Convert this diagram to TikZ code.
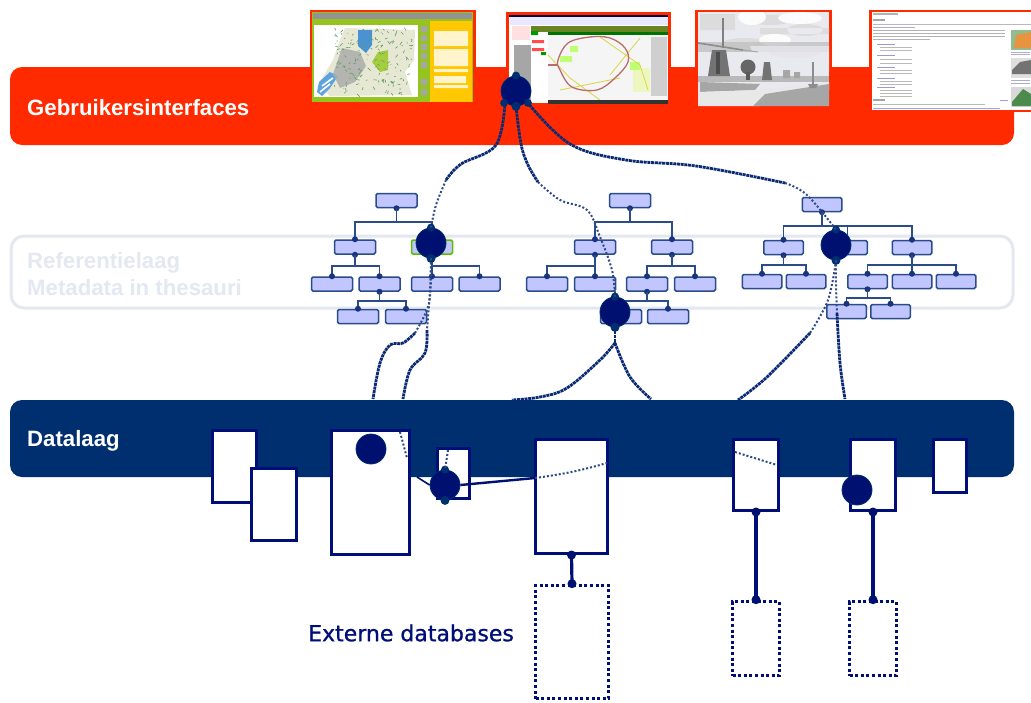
\documentclass[tikz,border=0pt]{standalone}
\usepackage{fontspec}
\setmainfont{Liberation Sans}
\newfontfamily\vfont[FakeBold=1]{DejaVu Sans}
\usetikzlibrary{calc}
\definecolor{redbar}{HTML}{FF2A00}
\definecolor{navybar}{HTML}{002F6F}
\definecolor{navyline}{HTML}{000F78}
\definecolor{dotcol}{HTML}{001070}
\definecolor{treeline}{HTML}{2A4C88}
\definecolor{treefill}{HTML}{C2C6FF}
\definecolor{reflight}{HTML}{E3E8F1}
\definecolor{linkcol}{HTML}{0B2A74}
\definecolor{limeg}{HTML}{96C41E}
\definecolor{amber}{HTML}{FFC800}
\definecolor{landc}{HTML}{E6E8D4}
\definecolor{skyc}{HTML}{E9E9F0}
\tikzset{
  x=1pt,y=-1pt,
  tbox/.style={draw=treeline,fill=treefill,line width=1.5pt,rounded corners=1.5pt,minimum width=#1,minimum height=14pt,inner sep=0pt},
  tbox/.default=41pt,
  gbox/.style={tbox,draw=black!30!green!60!yellow!90!black},
  tree/.style={draw=treeline,line width=1.6pt},
  tdot/.style={circle,fill=treeline!60!dotcol,inner sep=0pt,minimum size=6pt},
  sdot/.style={circle,fill=dotcol,inner sep=0pt,minimum size=9pt},
  hub/.style={circle,fill=dotcol,draw=navybar,line width=.8pt,inner sep=0pt,minimum size=30pt},
  dbox/.style={draw=navyline,fill=white,line width=3pt,inner sep=0pt},
  xbox/.style={draw=navyline,fill=white,line width=3.6pt,dash pattern=on 3pt off 2.6pt,inner sep=0pt},
  dlink/.style={draw=navyline,line width=3.2pt},
  dense/.style={draw=linkcol,line width=2.8pt,dash pattern=on 3pt off .7pt},
  sparse/.style={draw=linkcol!85!white,line width=2pt,dash pattern=on 2pt off 2pt},
  lbl/.style={anchor=west,inner sep=0pt,font=\fontsize{22.2}{26}\selectfont\bfseries},
}
\newcommand{\tlink}[3]{\draw[tree] (#1.south) -- ++(0,#3) -| (#2.north);\node[tdot] at (#2.north) {};}
\newcommand{\tnode}[4][tbox]{\node[#1] (#2) at (#3,#4) {};}
\newcommand{\txtlines}[4]{\foreach \yy in {#3} {\draw[#4] (#1,\yy) -- (#2,\yy);}}
\begin{document}
\begin{tikzpicture}
\useasboundingbox (0,0) rectangle (1031,702);
\fill[white] (0,0) rectangle (1031,702);
\pgfmathsetseed{11}
% bars
\fill[redbar,rounded corners=12pt] (10,67) rectangle (1014,145);
\draw[reflight,line width=3pt,rounded corners=13pt] (11,236) rectangle (1013,308);
\fill[navybar,rounded corners=12pt] (10,400) rectangle (1014,477);
\node[lbl,text=white] (t1) at (27,107.5) {Gebruikersinterfaces};
\node[lbl,text=reflight,align=left,font=\fontsize{22.2}{27}\selectfont\bfseries] (t2) at (27,274.5) {Referentielaag\\Metadata in thesauri};
\node[lbl,text=white] (t3) at (27,441) {Datalaag};
\node[anchor=west,inner sep=0pt,text=navyline,font=\vfont\fontsize{22}{26}\selectfont] (t4) at (308,633) {Externe databases};

% screenshot 1
\fill[redbar] (310,10) rectangle (476,103);
\fill[limeg] (312,12) rectangle (473,102);
\fill[gray!85] (313,13) rectangle (472,19);
\fill[amber] (430,21) rectangle (472,102);
\fill[white] (314,25) rectangle (418,97);
\fill[gray!70] (421,26) rectangle (427,32) (421,35) rectangle (427,41) (421,44) rectangle (427,50) (421,53) rectangle (427,59) (421,62) rectangle (427,68) (421,79) rectangle (427,85) (421,89) rectangle (427,95);
\fill[white!80!amber] (434,31) rectangle (468,46) (434,49) rectangle (468,66) (434,69) rectangle (468,72) (434,76) rectangle (466,83) (434,85) rectangle (468,88);
\begin{scope}
\clip (314,25) rectangle (418,97);
\fill[landc] (345,28) -- (415,30) -- (414,60) -- (405,72) -- (412,95) -- (330,96) -- (318,85) -- (333,60) -- (340,40) -- cycle;
\fill[cyan!60!blue!75] (358,30) -- (372,30) -- (372,45) -- (366,53) -- (358,46) -- cycle;
\fill[cyan!65!blue!65] (317,92) -- (319,82) -- (330,72) -- (338,76) -- (330,88) -- (322,96) -- cycle;
\fill[limeg!85!white] (378,52) -- (388,50) -- (388,70) -- (380,72) -- (372,62) -- cycle;
\fill[gray!65,opacity=.85] (342,48) -- (360,52) -- (366,66) -- (355,82) -- (340,88) -- (333,74) -- cycle;
\foreach \i in {1,...,170} {
  \pgfmathsetmacro{\px}{335+rnd*78}\pgfmathsetmacro{\py}{30+rnd*65}
  \pgfmathsetmacro{\dx}{rnd*6-3}\pgfmathsetmacro{\dy}{rnd*6-3}
  \draw[gray!75!green,line width=.6pt] (\px,\py) -- ++(\dx,\dy);
}
\draw[white,line width=1.6pt] (320,92) -- (330,84) (322,86) -- (333,78);
\end{scope}
% screenshot 2
\fill[redbar] (506,12) rectangle (671,104);
\fill[white] (509,15) rectangle (668,103);
\fill[black!70!blue] (509,15) rectangle (668,16.5);
\fill[blue!9] (510,17) rectangle (668,25);
\fill[black!45!green!45!brown] (531,26) rectangle (668,32);
\fill[green!45!black] (548,32) rectangle (668,35);
\fill[white!92!gray] (548,35) rectangle (668,100);
\fill[gray!38] (651,37) rectangle (667,96);
\fill[yellow!75!green!25] (633,68) rectangle (650,92);
\fill[red!12] (512,26) rectangle (530,40);
\fill[gray!70] (514,45) rectangle (531,100);
\fill[red!70] (532,40) rectangle (544,43) (532,48) rectangle (544,51);
\fill[green!60!black] (531,31) rectangle (538,35) (541,52) rectangle (546,55);
\fill[green!45!yellow!55] (570,46) rectangle (578,52) (560,56) rectangle (572,62) (630,62) rectangle (640,70);
\draw[yellow!70!gray,line width=.8pt] (548,55) -- (570,78) -- (600,100) (600,37) -- (640,65) -- (648,90) (640,38) -- (610,75) (560,90) -- (620,78);
\draw[red!35!gray!85,line width=1.3pt] plot[smooth cycle,tension=.6] coordinates {(568,43) (590,37) (610,38) (625,48) (628,62) (615,78) (597,90) (572,87) (560,70) (558,60)};
\draw[red!35!gray!85,line width=1.1pt] (548,65) -- (558,65);
\fill[black!80] (548,100) rectangle (668,104);
% screenshot 3
\fill[redbar] (695,10) rectangle (832,108);
\fill[skyc] (698,12) rectangle (829,106);
\begin{scope}
\clip (698,12) rectangle (829,106);
\fill[gray!30,opacity=.8] (700,14) rectangle (735,30) (760,28) rectangle (829,34) (770,20) ellipse [x radius=22,y radius=5] (805,30) ellipse [x radius=18,y radius=6] (745,45) ellipse [x radius=25,y radius=7] (795,52) ellipse [x radius=26,y radius=6];
\fill[white,opacity=.9] (752,17) ellipse [x radius=14,y radius=8] (800,18) ellipse [x radius=22,y radius=6] (775,40) ellipse [x radius=16,y radius=6];
\fill[gray!50,opacity=.75] (698,42) rectangle (829,52);
\fill[skyc,opacity=.75] (750,46) -- (829,46) -- (829,72) -- (760,72) -- cycle;
\fill[gray!55] (698,76) rectangle (829,82);
\fill[gray!70] (700,82) -- (760,84) -- (755,90) -- (700,92) -- cycle;
\fill[gray!18] (698,92) -- (760,90) -- (829,82) -- (829,90) -- (760,106) -- (698,106) -- cycle;
\fill[gray!70] (753,106) -- (765,94) -- (829,84) -- (829,106) -- cycle;
\fill[black!55] (712,50) -- (726,50) -- (730,76) -- (708,76) -- cycle;
\fill[black!70] (716,52) rectangle (720,74);
\draw[black!50,line width=1.6pt] (723,18) -- (723,48);
\draw[black!45,line width=1.6pt] (698,43) -- (743,50);
\draw[gray!70,line width=1pt] (743,50) -- (758,52);
\fill[black!60] (748,67) circle [radius=7.5];
\fill[black!65] (746,72) rectangle (750,80);
\fill[black!55] (764,62) -- (770,62) -- (772,80) -- (762,80) -- cycle;
\fill[black!35] (783,70) rectangle (790,78) (794,72) rectangle (800,78);
\draw[black!45,line width=1.2pt] (813,62) -- (813,85);
\fill[black!45] (808,84) -- (818,84) -- (816,88) -- (810,88) -- cycle;
\end{scope}
% screenshot 4
\fill[redbar] (869,10) rectangle (1031,112);
\fill[white] (872,12) rectangle (1031,109.5);
\draw[gray!60,line width=1.2pt] (873,14) -- (898,14);
\draw[gray!70,line width=1.2pt] (873,20) -- (885,20);
\draw[gray!55,line width=.9pt] (873,24) -- (1031,24);
\draw[blue!30!gray!50,line width=.9pt] (873,27) -- (915,27);
\txtlines{873}{1005}{30,33,36}{gray!60,line width=.9pt}
\draw[gray!60,line width=.9pt] (873,39) -- (930,39);
\txtlines{877}{895}{44,55,67,78,87}{blue!45!gray!55,line width=1pt}
\txtlines{880}{912}{47,50,59,63,70,73,81,84,90,93,96}{gray!55,line width=.8pt}
\draw[gray!70,line width=1.1pt] (873,100) -- (885,100);
\draw[blue!40,line width=.9pt] (1000,100) -- (1008,100);
\draw[gray!55,line width=.9pt] (873,104) -- (985,104);
\draw[blue!30!gray!55,line width=.9pt] (873,108) -- (1000,108);
\fill[green!25!gray!70] (1011,30) rectangle (1031,50);
\fill[orange!55!brown!85] (1016,35) -- (1031,32) -- (1031,48) -- (1014,48) -- cycle;
\fill[gray!25] (1011,58) rectangle (1031,78);
\fill[black!55] (1012,70) -- (1020,62) -- (1031,60) -- (1031,74) -- (1012,74) -- cycle;
\fill[gray!30] (1011,87) rectangle (1031,107);
\fill[black!65!green!70] (1012,102) -- (1023,89) -- (1031,94) -- (1031,106) -- (1012,106) -- cycle;
\txtlines{1011}{1030}{52,54,80,83}{blue!30!gray!50,line width=.8pt}
% tree 1
\tnode{a0}{396.5}{200.5}
\tnode{a1}{355}{247}
\tnode[gbox]{a2}{432}{247}
\tnode{a3}{332}{284}
\tnode{a4}{379.5}{284}
\tnode{a5}{432}{284}
\tnode{a6}{479.5}{284}
\tnode{a7}{358}{316.5}
\tnode{a8}{406}{316.5}
\node[tdot] at (a0.south) {};\node[tdot] at (a1.south) {};\node[tdot] at (a4.south) {};
\tlink{a0}{a1}{14}\tlink{a0}{a2}{14}
\tlink{a1}{a3}{11}\tlink{a1}{a4}{11}
\tlink{a2}{a5}{11}\tlink{a2}{a6}{11}
\tlink{a4}{a7}{9}\tlink{a4}{a8}{9}
% tree 2
\tnode{b0}{630}{200.5}
\tnode{b1}{595}{247}
\tnode{b2}{672}{247}
\tnode{b3}{547}{284}
\tnode{b4}{595}{284}
\tnode{b5}{647}{284}
\tnode{b6}{695}{284}
\tnode{b7}{621}{316.5}
\tnode{b8}{668}{316.5}
\node[tdot] at (b0.south) {};\node[tdot] at (b1.south) {};\node[tdot] at (b2.south) {};\node[tdot] at (b5.south) {};
\tlink{b0}{b1}{14}\tlink{b0}{b2}{14}
\tlink{b1}{b3}{11}\tlink{b1}{b4}{11}
\tlink{b2}{b5}{11}\tlink{b2}{b6}{11}
\tlink{b5}{b7}{9}\tlink{b5}{b8}{9}
% tree 3
\tnode[tbox=39.5pt]{c0}{822}{204.5}
\tnode[tbox=39.5pt]{c1}{783.5}{247.5}
\tnode[tbox=39.5pt]{c2}{847.5}{247.5}
\tnode[tbox=39.5pt]{c3}{912}{247.5}
\tnode[tbox=39.5pt]{c4}{762}{281.5}
\tnode[tbox=39.5pt]{c5}{806}{281.5}
\tnode[tbox=39.5pt]{c6}{867.5}{281.5}
\tnode[tbox=39.5pt]{c7}{912}{281.5}
\tnode[tbox=39.5pt]{c8}{956}{281.5}
\tnode[tbox=39.5pt]{c9}{846.5}{311.5}
\tnode[tbox=39.5pt]{c10}{890.5}{311.5}
\node[tdot] at (c0.south) {};\node[tdot] at (c1.south) {};\node[tdot] at (c3.south) {};\node[tdot] at (c6.south) {};
\tlink{c0}{c1}{14}\tlink{c0}{c2}{14}\tlink{c0}{c3}{14}
\tlink{c1}{c4}{9.5}\tlink{c1}{c5}{9.5}
\tlink{c3}{c6}{9.5}\tlink{c3}{c7}{9.5}\tlink{c3}{c8}{9.5}
\tlink{c6}{c9}{8.5}\tlink{c6}{c10}{8.5}
% data boxes
\node[dbox,minimum width=44pt,minimum height=72pt] (d1) at (234.5,466.5) {};
\node[dbox,minimum width=45pt,minimum height=72pt] (d2) at (274,504.5) {};
\node[dbox,minimum width=78pt,minimum height=124pt] (d3) at (370.5,492.5) {};
\node[dbox,minimum width=32pt,minimum height=50pt] (d4) at (453.5,473.5) {};
\node[dbox,minimum width=72pt,minimum height=114pt] (d5) at (571.5,496.5) {};
\node[dbox,minimum width=45pt,minimum height=71pt] (d6) at (756,475) {};
\node[dbox,minimum width=45pt,minimum height=71pt] (d7) at (873,475) {};
\node[dbox,minimum width=33pt,minimum height=53pt] (d8) at (950,466) {};
\node[xbox,minimum width=73pt,minimum height=113pt] (e1) at (572,642) {};
\node[xbox,minimum width=47pt,minimum height=74pt] (e2) at (756,638.5) {};
\node[xbox,minimum width=47pt,minimum height=74pt] (e3) at (873,638.5) {};
\draw[dlink] (d5.south) -- (e1.north);
\draw[dlink] (d6.south) -- (e2.north);
\draw[dlink] (d7.south) -- (e3.north);
\foreach \n in {d5.south,e1.north,d6.south,e2.north,d7.south,e3.north} {\node[sdot] at (\n) {};}
% hubs
\node[hub] (h0) at (516,91) {};
\node[hub] (h1) at (431,243) {};
\node[hub] (h2) at (615,312) {};
\node[hub] (h3) at (836,245) {};
\node[hub] (h4) at (371,449) {};
\node[hub] (h5) at (445,485) {};
\node[hub] (h6) at (857,490) {};
\foreach \h in {h0,h1,h2,h3,h5} {\node[tdot,fill=navybar,minimum size=9pt] at (\h.south) {};\node[tdot,fill=navybar,minimum size=8pt] at (\h.north) {};}
\node[tdot,fill=navybar,minimum size=8pt] at ($(h0.south west)+(-1,1)$) {};
\node[tdot,fill=navybar,minimum size=8pt] at ($(h0.south east)+(1,1)$) {};
\coordinate (q1) at (373,399);
\coordinate (q2) at (403,399);
\coordinate (q3) at (512,400);
\coordinate (q4) at (651,399);
\coordinate (q5) at (738,400);
\coordinate (q6) at (845,399);
% hub 0 to hub 1
\draw[dense] plot[smooth,tension=.6] coordinates {(h0.south west) (496,145) (461,164) (446,180)};
\draw[sparse] plot[smooth,tension=.6] coordinates {(446,180) (436,205) (h1.north)};
% hub 0 to hub 2
\draw[dense] plot[smooth,tension=.6] coordinates {(h0.south) (521,144) (528,165) (538,182)};
\draw[sparse] plot[smooth,tension=.6] coordinates {(538,182) (560,200) (587,210) (600,237) (612,270) (h2.north)};
% hub 0 to hub 3
\draw[dense] plot[smooth,tension=.6] coordinates {(h0.south east) (570,144) (626,160) (696,166) (785,183)};
\draw[sparse] plot[smooth,tension=.6] coordinates {(785,183) (807,195) (h3.north)};
% hub 1 to bar
\draw[sparse] plot[smooth,tension=.6] coordinates {(h1.south) (431,280) (428,307) (415,333)};
\draw[dense] plot[smooth,tension=.6] coordinates {(415,333) (403,343) (390,345) (380,363) (q1)};
\draw[sparse] plot[smooth,tension=.6] coordinates {(h1.south) (430,290) (427,330)};
\draw[dense] plot[smooth,tension=.6] coordinates {(427,330) (425,353) (410,370) (q2)};
% hub 2 to bar
\coordinate (fork) at (615,343);
\draw[dense] (h2.south) -- (fork);
\draw[dense] plot[smooth,tension=.6] coordinates {(fork) (600,360) (567,388) (540,397) (q3)};
\draw[dense] plot[smooth,tension=.6] coordinates {(fork) (630,377) (q4)};
% hub 3 to bar
\draw[sparse] plot[smooth,tension=.6] coordinates {(h3.south) (828,300) (810,333)};
\draw[dense] plot[smooth,tension=.6] coordinates {(810,333) (767,377) (q5)};
\draw[sparse] plot[smooth,tension=.6] coordinates {(h3.south) (836,285) (837,313)};
\draw[dense] plot[smooth,tension=.6] coordinates {(837,313) (840,363) (q6)};
% links inside the data layer
\coordinate (r1) at (400,432);
\coordinate (r2) at (407,458);
\coordinate (r3) at (417,477);
\coordinate (r4) at (448,450);
\coordinate (r5) at (535,478);
\coordinate (r6) at (607,463);
\coordinate (r7) at (735,452);
\coordinate (r8) at (777,465);
\draw[sparse] (r1) -- (r2);
\draw[sparse] (r4) -- (h5.north);
\draw[draw=dotcol,line width=1.6pt] (r3) -- (h5.west);
\draw[draw=dotcol,line width=2.4pt] (h5.east) -- (r5);
\draw[sparse] (r5) to[bend right=4] (r6);
\draw[sparse] (r7) -- (r8);
\end{tikzpicture}
\end{document}
